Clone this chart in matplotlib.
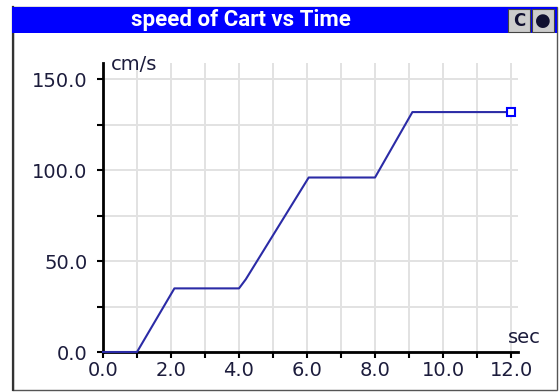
import numpy as np
import matplotlib
matplotlib.use("Agg")
import matplotlib.pyplot as plt
from matplotlib.patches import Rectangle
from matplotlib.ticker import MultipleLocator, FormatStrFormatter

# data
time_s = [0.0, 1.0, 2.1, 4.0, 4.2, 6.05, 8.0, 9.1, 12.0]
speed_cms = [0.0, 0.0, 35.0, 35.0, 40.0, 96.0, 96.0, 132.0, 132.0]
title = "speed of Cart vs Time"
x_label = "sec"
y_label = "cm/s"

W, H = 560, 392
fig = plt.figure(figsize=(W / 100, H / 100), dpi=100)

def px(x, y):
    # pixel coords (top-left origin) -> figure fraction
    return x / W, 1 - y / H

# panel frame (behind the axes)
fig.add_artist(Rectangle(px(12.5, 390), (557 - 12.5) / W, (390 - 7) / H,
                         transform=fig.transFigure, facecolor="white",
                         edgecolor="#555555", linewidth=1.0, zorder=-5))
fig.add_artist(plt.Line2D([12.5 / W, 12.5 / W], [1 - 390 / H, 1 - 7 / H],
                          transform=fig.transFigure, color="#333333",
                          linewidth=1.6, zorder=-4))
# title bar
fig.add_artist(Rectangle(px(12, 33), (557 - 12) / W, 26 / H,
                         transform=fig.transFigure, facecolor="#0000ff",
                         edgecolor="none", zorder=-4))
fig.text(*px(241, 20), title, color="white", fontweight="bold",
         family=["Roboto", "DejaVu Sans"], fontsize=16,
         ha="center", va="center")
# little buttons
for bx, sym in [(508, "C"), (532, "\u25CF")]:
    fig.add_artist(Rectangle(px(bx, 32), 22 / W, 23 / H, transform=fig.transFigure,
                             facecolor="#cccccc", edgecolor="#444444",
                             linewidth=0.8, zorder=-3))
    fig.text(*px(bx + 11, 20.5), sym, color="#101030",
             fontsize=12 if sym == "C" else 13,
             fontweight="bold", ha="center", va="center")

# plot area
l, b = 103 / W, 1 - 352 / H
r, t = 517.8 / W, 1 - 63 / H
ax = fig.add_axes([l, b, r - l, t - b])
ax.set_facecolor("none")
ax.set_xlim(0, 12.2)
ax.set_ylim(0, 159)

ax.xaxis.set_major_locator(MultipleLocator(2))
ax.xaxis.set_minor_locator(MultipleLocator(1))
ax.yaxis.set_major_locator(MultipleLocator(50))
ax.yaxis.set_minor_locator(MultipleLocator(25))
ax.xaxis.set_major_formatter(FormatStrFormatter("%.1f"))
ax.yaxis.set_major_formatter(FormatStrFormatter("%.1f"))

ax.grid(True, which="both", color="#e2e2e2", linewidth=1.4)
ax.set_axisbelow(True)
for s in ["top", "right"]:
    ax.spines[s].set_visible(False)
for s in ["left", "bottom"]:
    ax.spines[s].set_linewidth(2)
    ax.spines[s].set_color("black")

label_color = "#1c1c3c"
ax.tick_params(which="both", length=4.3, width=1.5, color="black",
               labelsize=14, labelcolor=label_color)
ax.tick_params(axis="y", pad=7)
ax.tick_params(axis="x", pad=2.5)

ax.plot(time_s, speed_cms, color="#2b2ba6", linewidth=1.5, zorder=3,
        clip_on=False)
ax.plot(time_s[-1], speed_cms[-1], marker="s", markersize=6,
        markerfacecolor="white", markeredgecolor="#0000ff",
        markeredgewidth=1.5, zorder=4, clip_on=False)

fig.text(*px(111, 70), y_label, fontsize=14, color=label_color, va="baseline")
fig.text(*px(508, 343), x_label, fontsize=14, color=label_color, va="baseline")

fig.savefig("out.png", dpi=100)
